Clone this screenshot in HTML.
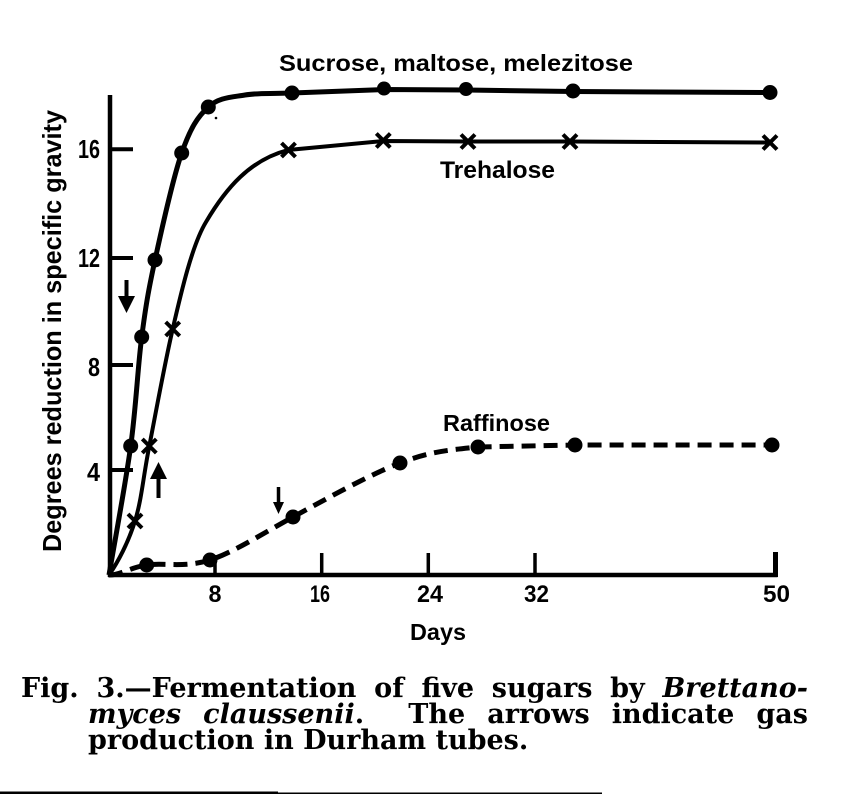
<!DOCTYPE html>
<html>
<head>
<meta charset="utf-8">
<style>
  html, body { margin:0; padding:0; background:#fff; }
  body { width:855px; height:794px; position:relative; overflow:hidden; }
  svg { position:absolute; left:0; top:0; }
  .cap { position:absolute; font-family:"DejaVu Serif","Liberation Serif",serif; font-weight:bold; font-size:27px; line-height:27px; color:#000; white-space:nowrap; }
  .just { text-align:justify; text-align-last:justify; white-space:normal; }
  .cap i { font-style:italic; }
</style>
</head>
<body>
<svg width="855" height="794" viewBox="0 0 855 794" xmlns="http://www.w3.org/2000/svg">
  <g stroke="#000" fill="none" stroke-linecap="butt">
    <!-- axes -->
    <line x1="110" y1="95" x2="110" y2="577" stroke-width="4.5"/>
    <line x1="108" y1="575" x2="777.5" y2="575" stroke-width="4.5"/>
    <!-- y ticks -->
    <line x1="110" y1="149.3" x2="133" y2="149.3" stroke-width="4"/>
    <line x1="110" y1="258" x2="133" y2="258" stroke-width="4"/>
    <line x1="110" y1="365" x2="133" y2="365" stroke-width="4"/>
    <line x1="110" y1="470" x2="133" y2="470" stroke-width="4"/>
    <!-- x ticks -->
    <line x1="215" y1="555" x2="215" y2="575" stroke-width="3.5"/>
    <line x1="321.7" y1="553" x2="321.7" y2="575" stroke-width="3.5"/>
    <line x1="428.3" y1="553" x2="428.3" y2="575" stroke-width="3.5"/>
    <line x1="535" y1="553" x2="535" y2="575" stroke-width="3.5"/>
    <line x1="775.5" y1="552" x2="775.5" y2="577" stroke-width="5"/>

    <!-- Sucrose curve -->
    <path stroke-width="5" stroke-linejoin="round" d="M109,575 C112.6,553.5 125.25,485.7 130.7,446 C136.15,406.3 137.65,368 141.7,337 C145.75,306 148.33,290.67 155,260 C161.67,229.33 172.82,178.5 181.7,153 C190.58,127.5 197.75,116.67 208.3,107 C218.85,97.33 231.05,97.33 245,95 C258.95,92.67 268.8,94 292,93 L384,89.5 L466,90 L573,91.5 L771,92.5"/>

    <!-- Trehalose curve -->
    <path stroke-width="4" stroke-linejoin="round" d="M109,575 C118,562 128.3,542.5 135,521 C141.7,499.5 143,478 149.3,446 C155.6,414 164.25,365.5 172.7,329 C181,293 192,245 206,222 C226,188 250,160 288,150 L383,141 L468,141.5 L570,141.5 L770,142.5"/>

    <!-- Raffinose dashed curve -->
    <path stroke-width="5" stroke-dasharray="14 8" d="M109,575 C121,575 129.9,567.5 146.7,565 C163.5,562.5 185.6,568 210,560 C234.4,552 261.3,534.2 293,517 C324.7,499.8 369.2,474.7 400,463 C430.8,451.3 448.8,450 478,447 L575,445 L773,445"/>

    <!-- crosses (Trehalose) -->
    <g stroke-width="4">
      <path d="M128,514 L142,528 M142,514 L128,528"/>
      <path d="M142.3,439 L156.3,453 M156.3,439 L142.3,453"/>
      <path d="M165.7,322 L179.7,336 M179.7,322 L165.7,336"/>
      <path d="M281.5,143 L295.5,157 M295.5,143 L281.5,157"/>
      <path d="M376.3,133.5 L390.3,147.5 M390.3,133.5 L376.3,147.5"/>
      <path d="M461,134.5 L475,148.5 M475,134.5 L461,148.5"/>
      <path d="M563,134.5 L577,148.5 M577,134.5 L563,148.5"/>
      <path d="M763,135.5 L777,149.5 M777,135.5 L763,149.5"/>
    </g>

    <!-- arrows -->
    <line x1="126.5" y1="280" x2="126.5" y2="304" stroke-width="4"/>
    <line x1="158.5" y1="474" x2="158.5" y2="498" stroke-width="4"/>
    <line x1="278.5" y1="487" x2="278.5" y2="505" stroke-width="3.5"/>
  </g>

  <g fill="#000">
    <polygon points="118,296 135,296 126.5,313"/>
    <polygon points="150,479 167,479 158.5,462"/>
    <polygon points="273,502 284,502 278.5,514"/>

    <!-- sucrose dots -->
    <circle cx="130.7" cy="446" r="7.5"/>
    <circle cx="141.7" cy="337" r="7.5"/>
    <circle cx="155" cy="260" r="7.5"/>
    <circle cx="181.7" cy="153" r="7.5"/>
    <circle cx="208.3" cy="107" r="7.5"/>
    <circle cx="292" cy="93" r="7.5"/>
    <circle cx="384" cy="88.5" r="7"/>
    <circle cx="466" cy="89" r="7"/>
    <circle cx="573" cy="91" r="7.5"/>
    <circle cx="770" cy="92.5" r="7.5"/>
    <circle cx="216" cy="118" r="1.3"/>

    <!-- raffinose dots -->
    <circle cx="146.7" cy="565" r="7.5"/>
    <circle cx="210" cy="560" r="7.5"/>
    <circle cx="293" cy="517" r="7.5"/>
    <circle cx="400" cy="463" r="7.5"/>
    <circle cx="478" cy="447" r="7.5"/>
    <circle cx="575" cy="445" r="7.5"/>
    <circle cx="772" cy="445" r="7.5"/>
  </g>

  <g font-family="Liberation Sans, DejaVu Sans, sans-serif" font-weight="bold" fill="#000">
    <!-- y tick labels -->
    <text x="78" y="158" font-size="26" textLength="22" lengthAdjust="spacingAndGlyphs">16</text>
    <text x="78" y="267" font-size="26" textLength="22" lengthAdjust="spacingAndGlyphs">12</text>
    <text x="88" y="376" font-size="26" textLength="12" lengthAdjust="spacingAndGlyphs">8</text>
    <text x="87" y="481" font-size="26" textLength="13" lengthAdjust="spacingAndGlyphs">4</text>
    <!-- x tick labels -->
    <text x="208.5" y="602" font-size="24" textLength="13" lengthAdjust="spacingAndGlyphs">8</text>
    <text x="310" y="602" font-size="24" textLength="20" lengthAdjust="spacingAndGlyphs">16</text>
    <text x="417" y="602" font-size="24" textLength="26" lengthAdjust="spacingAndGlyphs">24</text>
    <text x="524" y="602" font-size="24" textLength="25" lengthAdjust="spacingAndGlyphs">32</text>
    <text x="763" y="602" font-size="24" textLength="27" lengthAdjust="spacingAndGlyphs">50</text>
    <!-- labels -->
    <text x="279" y="71" font-size="23" textLength="354" lengthAdjust="spacingAndGlyphs">Sucrose, maltose, melezitose</text>
    <text x="440" y="178" font-size="24" textLength="115" lengthAdjust="spacingAndGlyphs">Trehalose</text>
    <text x="443" y="431" font-size="23" textLength="107" lengthAdjust="spacingAndGlyphs">Raffinose</text>
    <text x="410" y="640" font-size="23" textLength="56" lengthAdjust="spacingAndGlyphs">Days</text>
    <text transform="translate(61,331) rotate(-90)" x="0" y="0" text-anchor="middle" font-size="26" textLength="442" lengthAdjust="spacingAndGlyphs">Degrees reduction in specific gravity</text>
  </g>

  <!-- bottom rule -->
  <rect x="0" y="791.5" width="278" height="2.5" fill="#000"/>
  <rect x="278" y="792.5" width="324" height="1.5" fill="#000"/>
</svg>

<div class="cap just" style="left:21px; top:675px; width:787px;">Fig. 3.—Fermentation of five sugars by <i>Brettano-</i></div>
<div class="cap just" style="left:88px; top:701px; width:720px;"><i>myces claussenii</i>.&nbsp; The arrows indicate gas</div>
<div class="cap" style="left:88px; top:727px;">production in Durham tubes.</div>
</body>
</html>
